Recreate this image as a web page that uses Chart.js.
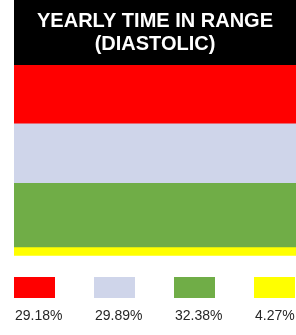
<!DOCTYPE html>
<html>
<head>
<meta charset="utf-8">
<script src="https://cdn.jsdelivr.net/npm/chart.js@4/dist/chart.umd.min.js"></script>
<style>
  html, body { margin: 0; padding: 0; background: #fff; }
  .wrap { position: relative; width: 296px; height: 335px; }
  #legend {
    position: absolute; left: 14px; top: 277px;
    display: flex; font-family: "Liberation Sans", Arial, sans-serif;
    font-size: 14px; line-height: 16px; color: #262626;
  }
  .item { width: 80px; }
  .swatch { width: 41px; height: 21px; }
  .lbl { margin-top: 9px; padding-left: 1px; }
</style>
</head>
<body>
<div class="wrap">
  <canvas id="chart" width="296" height="335"></canvas>
  <div id="legend"></div>
</div>
<script>
const categories = ['Diastolic'];
const seriesNames = ['High', 'Elevated', 'Normal', 'Low'];
const seriesValues = [29.18, 29.89, 32.38, 4.27];
const seriesColors = ['#ff0000', '#cfd5ea', '#70ad47', '#ffff00'];
const titleLines = ['YEARLY TIME IN RANGE', '(DIASTOLIC)'];

// black box behind the title
const titleBackground = {
  id: 'titleBackground',
  beforeDraw(chart) {
    const { ctx, chartArea } = chart;
    ctx.save();
    ctx.fillStyle = '#000';
    ctx.fillRect(chartArea.left, 0, chartArea.right - chartArea.left, chartArea.top);
    ctx.restore();
  }
};

new Chart(document.getElementById('chart').getContext('2d'), {
  type: 'bar',
  data: {
    labels: categories,
    datasets: seriesNames.map((name, i) => ({
      label: name,
      data: [seriesValues[i]],
      backgroundColor: seriesColors[i],
      borderWidth: 0,
      barPercentage: 1,
      categoryPercentage: 1,
    }))
  },
  options: {
    responsive: false,
    animation: false,
    layout: { padding: { left: 14, right: 0, top: 0, bottom: 71 } },
    plugins: {
      legend: { display: false },
      tooltip: { enabled: false },
      title: {
        display: true,
        text: titleLines,
        fullSize: false,
        color: '#fff',
        font: { family: '"Liberation Sans", Arial, sans-serif', size: 20, weight: 'bold', lineHeight: 23 / 20 },
        padding: { top: 10, bottom: 9 }
      }
    },
    scales: {
      x: { stacked: true, display: false },
      y: { stacked: true, display: false, reverse: true, min: 0, max: 100 }
    }
  },
  plugins: [titleBackground]
});

// legend: swatch with value underneath
const legend = document.getElementById('legend');
seriesValues.forEach((v, i) => {
  const item = document.createElement('div');
  item.className = 'item';
  item.innerHTML = '<div class="swatch" style="background:' + seriesColors[i] + '"></div>' +
    '<div class="lbl">' + v.toFixed(2) + '%</div>';
  legend.appendChild(item);
});
</script>
</body>
</html>
